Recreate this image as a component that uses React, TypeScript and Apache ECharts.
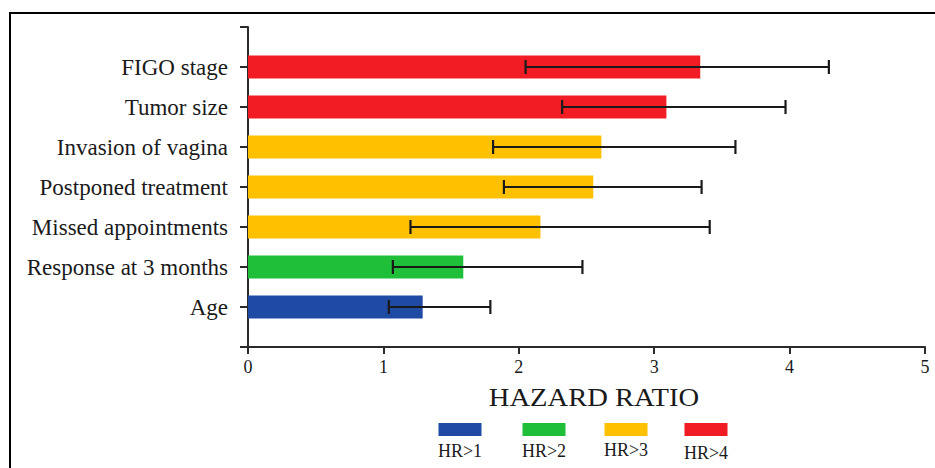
import React, { useEffect, useRef } from "react";
import * as echarts from "echarts";

// Risk factors, listed top to bottom as in the chart
const factors = [
  "FIGO stage",
  "Tumor size",
  "Invasion of vagina",
  "Postponed treatment",
  "Missed appointments",
  "Response at 3 months",
  "Age",
];
const hazardRatios = [3.34, 3.09, 2.61, 2.55, 2.16, 1.59, 1.29];
const ciLower = [2.05, 2.32, 1.81, 1.89, 1.2, 1.07, 1.04];
const ciUpper = [4.29, 3.97, 3.6, 3.35, 3.41, 2.47, 1.79];
// index into the legend groups
const hrGroup = [3, 3, 2, 2, 2, 1, 0];

const legendLabels = ["HR>1", "HR>2", "HR>3", "HR>4"];
const legendColors = ["#1F4BA5", "#1FBF3A", "#FFC000", "#F21D24"];

const xMin = 0;
const xMax = 5;
const xInterval = 1;
const xAxisTitle = "HAZARD RATIO";

const FONT = "'Liberation Serif', 'Times New Roman', serif";
const INK = "#1a1a1a";

export default function App() {
  const ref = useRef<HTMLDivElement>(null);

  useEffect(() => {
    if (!ref.current) return;
    const chart = echarts.init(ref.current, undefined, { renderer: "svg" });

    // y categories bottom to top, with an empty slot at each end
    const yCats = ["", ...[...factors].reverse(), ""];
    const catIndex = (i: number) => factors.length - i;

    const barData: any[] = yCats.map(() => "-");
    factors.forEach((_, i) => {
      barData[catIndex(i)] = {
        value: hazardRatios[i],
        itemStyle: { color: legendColors[hrGroup[i]] },
      };
    });

    const errData = factors.map((_, i) => [catIndex(i), ciLower[i], ciUpper[i]]);

    const legendX = [460, 544, 626, 706];
    const legendLabelY = [451, 451, 450, 453];
    const legendGraphics: any[] = [];
    legendLabels.forEach((lab, i) => {
      legendGraphics.push({
        type: "rect",
        shape: { x: legendX[i] - 21.5, y: 423, width: 43, height: 13 },
        style: { fill: legendColors[i] },
      });
      legendGraphics.push({
        type: "text",
        x: legendX[i],
        y: legendLabelY[i],
        style: {
          text: lab,
          fill: INK,
          font: `18px ${FONT}`,
          align: "center",
          verticalAlign: "middle",
        },
      });
    });

    chart.setOption({
      animation: false,
      backgroundColor: "#ffffff",
      grid: { left: 248, right: 10, top: 27, bottom: 121, containLabel: false },
      xAxis: {
        type: "value",
        min: xMin,
        max: xMax,
        interval: xInterval,
        splitLine: { show: false },
        axisLine: { show: true, lineStyle: { color: "#2a2a2a", width: 2 } },
        axisTick: { show: true, length: 7, lineStyle: { color: "#2a2a2a", width: 2 } },
        axisLabel: {
          color: INK,
          fontFamily: FONT,
          fontSize: 18,
          margin: 11,
        },
      },
      yAxis: {
        type: "category",
        data: yCats,
        boundaryGap: false,
        axisLine: { show: true, lineStyle: { color: "#2a2a2a", width: 2 } },
        axisTick: {
          show: true,
          length: 8,
          interval: 0,
          lineStyle: { color: "#2a2a2a", width: 2 },
        },
        axisLabel: {
          color: INK,
          fontFamily: FONT,
          fontSize: 23,
          margin: 20,
          interval: 0,
        },
      },
      series: [
        {
          type: "bar",
          data: barData,
          barWidth: 23,
          z: 2,
        },
        {
          type: "custom",
          z: 3,
          encode: { x: [1, 2], y: 0 },
          data: errData,
          renderItem: (params: any, api: any) => {
            const c = api.value(0);
            const lo = api.coord([api.value(1), c]);
            const hi = api.coord([api.value(2), c]);
            const h = 7;
            const st = { stroke: "#1a1a1a", lineWidth: 2.2 };
            return {
              type: "group",
              children: [
                { type: "line", shape: { x1: lo[0], y1: lo[1], x2: hi[0], y2: hi[1] }, style: st },
                { type: "line", shape: { x1: lo[0], y1: lo[1] - h, x2: lo[0], y2: lo[1] + h }, style: st },
                { type: "line", shape: { x1: hi[0], y1: hi[1] - h, x2: hi[0], y2: hi[1] + h }, style: st },
              ],
            };
          },
        },
      ],
      graphic: [
        {
          type: "rect",
          shape: { x: 10, y: 13, width: 940, height: 470 },
          style: { fill: "none", stroke: "#000", lineWidth: 2 },
          silent: true,
        },
        {
          type: "text",
          x: 594,
          y: 397,
          scaleX: 1.1,
          style: {
            text: xAxisTitle,
            fill: INK,
            font: `26px ${FONT}`,
            align: "center",
            verticalAlign: "middle",
          },
        },
        ...legendGraphics,
      ],
    });

    return () => chart.dispose();
  }, []);

  return (
    <div
      ref={ref}
      style={{ position: "fixed", left: 0, top: 0, width: 935, height: 468, background: "#fff" }}
    />
  );
}
